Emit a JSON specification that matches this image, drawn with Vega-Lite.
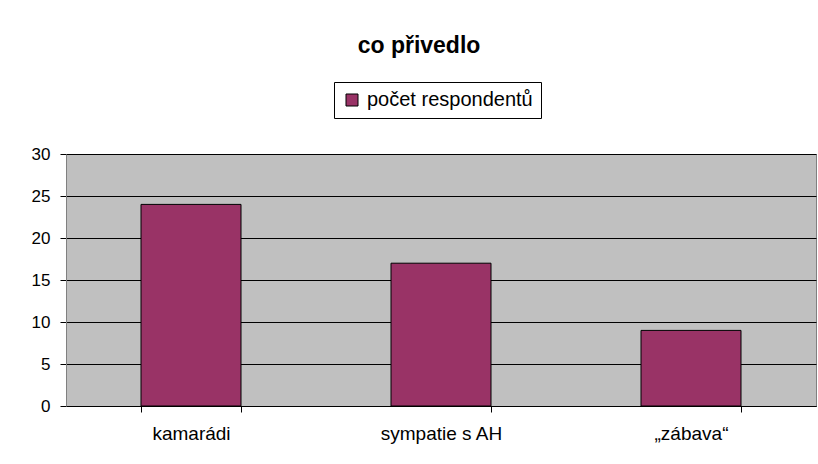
{
  "$schema": "https://vega.github.io/schema/vega-lite/v6.json",
  "width": 750,
  "height": 252,
  "autosize": {"type": "none"},
  "padding": {"left": 66, "top": 154, "right": 2, "bottom": 58},
  "background": "white",
  "title": {
    "text": "co přivedlo",
    "font": "Liberation Sans",
    "fontSize": 23,
    "fontWeight": "bold",
    "color": "black",
    "anchor": "middle",
    "dx": -22,
    "offset": 24
  },
  "data": {
    "values": [
      {"kategorie": "kamarádi", "pocet": 24, "serie": "počet respondentů"},
      {"kategorie": "sympatie s AH", "pocet": 17, "serie": "počet respondentů"},
      {"kategorie": "„zábava“", "pocet": 9, "serie": "počet respondentů"}
    ]
  },
  "mark": {"type": "bar", "stroke": "black", "strokeWidth": 1},
  "encoding": {
    "x": {
      "field": "kategorie",
      "type": "nominal",
      "sort": null,
      "scale": {"paddingInner": 0.6, "paddingOuter": 0.3},
      "axis": {
        "title": null,
        "labelAngle": 0,
        "labelFont": "Liberation Sans",
        "labelFontSize": 19,
        "labelColor": "black",
        "labelPadding": 12,
        "tickBand": "extent",
        "tickSize": 6,
        "tickColor": "black",
        "domainColor": "black",
        "grid": false
      }
    },
    "y": {
      "field": "pocet",
      "type": "quantitative",
      "scale": {"domain": [0, 30], "nice": false},
      "axis": {
        "title": null,
        "values": [0, 5, 10, 15, 20, 25, 30],
        "labelFont": "Liberation Sans",
        "labelFontSize": 17,
        "labelColor": "black",
        "labelPadding": 10,
        "tickSize": 6,
        "tickColor": "black",
        "domainColor": "#808080",
        "grid": true,
        "gridColor": "black",
        "gridOpacity": 1,
        "gridWidth": 1
      }
    },
    "color": {
      "field": "serie",
      "type": "nominal",
      "scale": {"range": ["#993366"]},
      "legend": {
        "title": null,
        "orient": "none",
        "legendX": 268,
        "legendY": -72,
        "direction": "vertical",
        "symbolType": "square",
        "symbolSize": 144,
        "symbolStrokeColor": "black",
        "symbolStrokeWidth": 1,
        "labelFont": "Liberation Sans",
        "labelFontSize": 20,
        "labelLimit": 400,
        "labelColor": "black",
        "labelOffset": 5,
        "padding": 8,
        "strokeColor": "black",
        "fillColor": "white"
      }
    }
  },
  "config": {
    "view": {"fill": "#C0C0C0", "stroke": "#808080", "strokeWidth": 1}
  }
}
